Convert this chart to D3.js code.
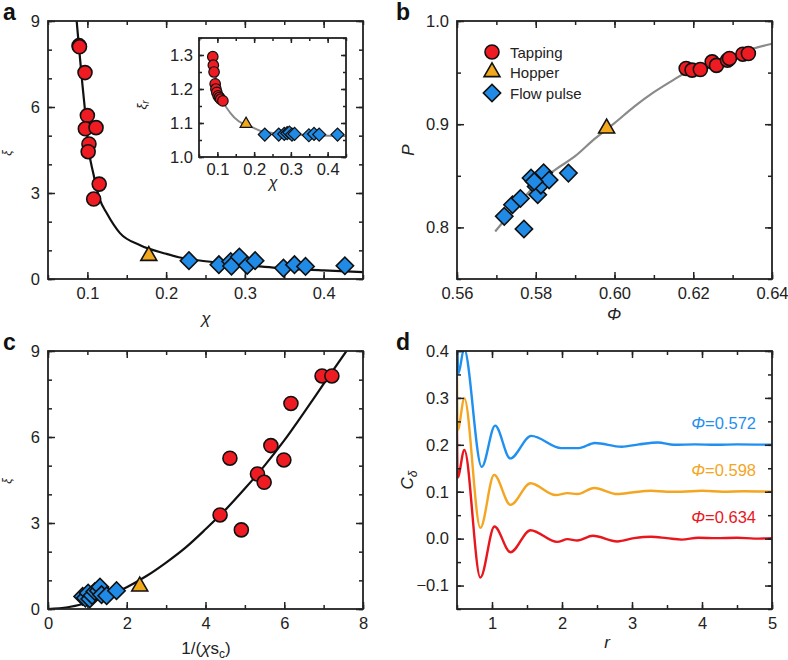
<!DOCTYPE html>
<html lang="en">
<head>
<meta charset="UTF-8">
<title>Packing figure</title>
<script src="https://d3js.org/d3.v7.min.js"></script>
<style>
  body { margin: 0; background: #fff; }
  svg { font-family: "Liberation Sans", Arial, sans-serif; }
  .tick text { font-size: 16.5px; fill: #222; }
  .tick line { stroke: #222; stroke-width: 1.5; }
  .frame { fill: none; stroke: #222; stroke-width: 1.8; }
</style>
</head>
<body>
<div id="chart"></div>
<script>
// ---- panel a : xi vs chi ----
const aTapping = [[0.0894,8.14],[0.090,8.10],[0.097,7.2],[0.100,5.70],[0.0974,5.24],[0.111,5.28],[0.102,4.71],[0.101,4.44],[0.115,3.31],[0.108,2.79]];
const aHopper = [[0.178,0.81]];
const aFlow = [[0.229,0.64],[0.267,0.50],[0.282,0.61],[0.283,0.45],[0.293,0.77],[0.303,0.47],[0.313,0.64],[0.349,0.38],[0.363,0.50],[0.377,0.44],[0.427,0.46]];
const aFit = [[0.0864,9.0],[0.0893,8.1],[0.094,6.7],[0.0978,5.66],[0.1012,4.62],[0.1075,3.69],[0.116,2.76],[0.1245,2.3],[0.1414,1.6],[0.167,1.18],[0.20,0.88],[0.216,0.76],[0.25,0.62],[0.294,0.5],[0.336,0.4],[0.40,0.3],[0.45,0.24]];

// inset: xi_r vs chi
const inTapping = [[0.0875,1.295],[0.089,1.27],[0.091,1.25],[0.094,1.215],[0.096,1.20],[0.0985,1.19],[0.102,1.18],[0.1056,1.175],[0.109,1.17],[0.115,1.165]];
const inHopper = [[0.178,1.097]];
const inFlow = [[0.229,1.066],[0.267,1.066],[0.282,1.068],[0.29,1.07],[0.296,1.072],[0.303,1.066],[0.31,1.068],[0.349,1.064],[0.363,1.068],[0.377,1.066],[0.427,1.066]];
const inFit = [[0.087,1.30],[0.1,1.21],[0.117,1.16],[0.135,1.13],[0.158,1.105],[0.19,1.09],[0.226,1.074],[0.30,1.067],[0.45,1.062]];

// ---- panel b : P vs phi ----
const bTapping = [[0.6182,0.954],[0.6197,0.9524],[0.6218,0.953],[0.6248,0.9604],[0.6259,0.957],[0.6287,0.962],[0.6292,0.9637],[0.6326,0.9678],[0.634,0.9685]];
const bHopper = [[0.598,0.896]];
const bFlow = [[0.572,0.8107],[0.5741,0.822],[0.5761,0.828],[0.577,0.7985],[0.5788,0.8478],[0.5801,0.8396],[0.5805,0.8316],[0.5813,0.841],[0.582,0.853],[0.5834,0.846],[0.5796,0.8445],[0.5883,0.8526]];
const bFit = [[0.5697,0.796],[0.575,0.82],[0.58,0.841],[0.585,0.856],[0.59,0.869],[0.595,0.886],[0.60,0.901],[0.605,0.917],[0.61,0.931],[0.615,0.943],[0.62,0.954],[0.625,0.961],[0.63,0.967],[0.635,0.973],[0.64,0.978]];

// ---- panel c : xi vs 1/(chi s_c) ----
const cTapping = [[6.96,8.13],[7.21,8.13],[6.17,7.17],[5.66,5.70],[4.62,5.26],[5.99,5.20],[5.32,4.71],[5.49,4.42],[4.37,3.28],[4.91,2.76]];
const cHopper = [[2.33,0.79]];
const cFlow = [[0.88,0.44],[0.95,0.38],[1.02,0.56],[1.06,0.35],[1.12,0.47],[1.19,0.61],[1.28,0.64],[1.32,0.77],[1.36,0.5],[1.49,0.46],[1.74,0.64]];
const cFit = [[0,0],[0.5,0.06],[1,0.22],[1.5,0.46],[2,0.76],[2.5,1.15],[3,1.62],[3.5,2.15],[4,2.78],[4.5,3.45],[5,4.2],[5.5,5.0],[6,5.88],[6.5,6.85],[7,7.85],[7.58,9.0]];

// ---- panel d : C_delta vs r ----
const dBlue = [[0.5,0.46],[0.52,0.352],[0.6,0.405],[0.853,0.153],[1.045,0.241],[1.26,0.171],[1.56,0.219],[1.99,0.193],[2.24,0.193],[2.47,0.204],[2.85,0.196],[3.1,0.201],[3.37,0.205],[3.6,0.2],[3.9,0.201],[4.2,0.2],[4.5,0.201],[5.0,0.2]];
const dOrange = [[0.5,0.345],[0.509,0.231],[0.605,0.299],[0.834,0.023],[1.03,0.136],[1.264,0.072],[1.55,0.118],[1.91,0.093],[2.08,0.097],[2.22,0.095],[2.46,0.108],[2.79,0.095],[3.03,0.099],[3.27,0.102],[3.5,0.1],[3.71,0.1],[4.0,0.102],[4.3,0.1],[4.6,0.101],[5.0,0.1]];
const dRed = [[0.5,0.23],[0.509,0.13],[0.605,0.189],[0.834,-0.083],[1.035,0.026],[1.264,-0.029],[1.55,0.018],[1.93,-0.007],[2.08,-0.001],[2.22,-0.004],[2.44,0.006],[2.79,-0.006],[3.03,0.001],[3.27,0.004],[3.5,0.001],[3.71,-0.002],[3.95,0.002],[4.2,0.001],[4.5,0.002],[4.75,0.0],[5.0,0.001]];
const dLabels = ["0.572", "0.598", "0.634"];
const dLabelY = [0.245, 0.145, 0.045];

// tick values
const xiTicks = [0, 3, 6, 9], xiMinor = d3.range(0, 10, 1);
const chiTicks = [0.1, 0.2, 0.3, 0.4], chiMinor = d3.range(0.05, 0.451, 0.05);
const xirTicks = [1.0, 1.1, 1.2, 1.3], xirMinor = d3.range(1.0, 1.351, 0.05);
const phiTicks = [0.56, 0.58, 0.60, 0.62, 0.64], phiMinor = d3.range(0.56, 0.641, 0.01);
const pTicks = [0.8, 0.9, 1.0], pMinor = d3.range(0.75, 1.001, 0.05);
const invTicks = [0, 2, 4, 6, 8], invMinor = d3.range(0, 8.1, 1);
const rTicks = [1, 2, 3, 4, 5], rMinor = d3.range(0.5, 5.01, 0.5);
const cTicks = [-0.1, 0.0, 0.1, 0.2, 0.3, 0.4], cMinor = d3.range(-0.15, 0.401, 0.05);

const RED = "#ee1c22", ORANGE = "#f2a81d", BLUE = "#1f8be6";
const LRED = "#e8161d", LORANGE = "#f4a522", LBLUE = "#1f8ff0";

const svg = d3.select("#chart").append("svg")
    .attr("width", 788).attr("height", 660);

const fmt1 = d => d < 0 ? "\u2212" + Math.abs(d).toFixed(1) : d.toFixed(1);

function box(g, x, y, o) {
    const w = x.range()[1] - x.range()[0];
    const h = y.range()[0] - y.range()[1];
    const big = o.big || 7, small = o.small || 4;
    const add = (axis, tr) => {
        const a = g.append("g").attr("transform", tr).call(axis);
        a.select(".domain").remove();
        return a;
    };
    add(d3.axisBottom(x).tickValues(o.xMinor).tickSize(-small).tickFormat(""), `translate(0,${h})`);
    add(d3.axisTop(x).tickValues(o.xMinor).tickSize(-small).tickFormat(""), "translate(0,0)");
    add(d3.axisLeft(y).tickValues(o.yMinor).tickSize(-small).tickFormat(""), "translate(0,0)");
    add(d3.axisRight(y).tickValues(o.yMinor).tickSize(-small).tickFormat(""), `translate(${w},0)`);
    add(d3.axisBottom(x).tickValues(o.xTicks).tickSize(-big).tickPadding(o.pad || 8).tickFormat(o.fx), `translate(0,${h})`);
    add(d3.axisTop(x).tickValues(o.xTicks).tickSize(-big).tickFormat(""), "translate(0,0)");
    add(d3.axisLeft(y).tickValues(o.yTicks).tickSize(-big).tickPadding(o.pad || 8).tickFormat(o.fy), "translate(0,0)");
    add(d3.axisRight(y).tickValues(o.yTicks).tickSize(-big).tickFormat(""), `translate(${w},0)`);
    g.append("rect").attr("class", "frame").attr("width", w).attr("height", h);
}

function markers(g, x, y, flow, hopper, tapping, s) {
    const k = s || 1;
    g.selectAll(null).data(flow).join("path")
        .attr("d", d3.symbol(d3.symbolSquare, 150 * k * k)())
        .attr("transform", d => `translate(${x(d[0])},${y(d[1])}) rotate(45)`)
        .attr("fill", BLUE).attr("stroke", "#111").attr("stroke-width", 1.6 * k);
    g.selectAll(null).data(hopper).join("path")
        .attr("d", d3.symbol(d3.symbolTriangle, 110 * k * k)())
        .attr("transform", d => `translate(${x(d[0])},${y(d[1])})`)
        .attr("fill", ORANGE).attr("stroke", "#111").attr("stroke-width", 1.6 * k);
    g.selectAll(null).data(tapping).join("circle")
        .attr("cx", d => x(d[0])).attr("cy", d => y(d[1])).attr("r", 7 * k)
        .attr("fill", RED).attr("stroke", "#111").attr("stroke-width", 1.6 * k);
}

function panelLetter(t, px, py) {
    svg.append("text").attr("x", px).attr("y", py).text(t)
        .attr("font-size", 23).attr("font-weight", "bold").attr("fill", "#111");
}

// ---------- panel a ----------
{
    const x = d3.scaleLinear().domain([0.05, 0.45]).range([48, 363]);
    const y = d3.scaleLinear().domain([0, 9]).range([279, 21]);
    const g = svg.append("g");
    const line = d3.line().x(d => x(d[0])).y(d => y(d[1])).curve(d3.curveMonotoneX);
    g.append("path").datum(aFit).attr("d", line).attr("fill", "none").attr("stroke", "#111").attr("stroke-width", 2.2);
    const gx = g.append("g").attr("transform", "translate(48,21)");
    box(gx, d3.scaleLinear().domain(x.domain()).range([0, 315]), d3.scaleLinear().domain(y.domain()).range([258, 0]),
        { xTicks: chiTicks, xMinor: chiMinor, yTicks: xiTicks, yMinor: xiMinor, fx: d3.format(".1f"), fy: d3.format("d") });
    markers(g, x, y, aFlow, aHopper, aTapping);

    // inset
    const ix = d3.scaleLinear().domain([0.05, 0.45]).range([199, 346]);
    const iy = d3.scaleLinear().domain([1.0, 1.35]).range([157, 38]);
    g.append("rect").attr("x", 199).attr("y", 38).attr("width", 147).attr("height", 119).attr("fill", "#fff");
    g.append("path").datum(inFit).attr("d", d3.line().x(d => ix(d[0])).y(d => iy(d[1])).curve(d3.curveMonotoneX))
        .attr("fill", "none").attr("stroke", "#8a8a8a").attr("stroke-width", 2);
    const gi = g.append("g").attr("transform", "translate(199,38)");
    box(gi, d3.scaleLinear().domain(ix.domain()).range([0, 147]), d3.scaleLinear().domain(iy.domain()).range([119, 0]),
        { xTicks: chiTicks, xMinor: chiMinor, yTicks: xirTicks, yMinor: xirMinor, fx: d3.format(".1f"), fy: d3.format(".1f"), big: 5, small: 3, pad: 6 });
    markers(g, ix, iy, inFlow, inHopper, inTapping, 0.75);
    g.append("text").attr("transform", "translate(146,105) rotate(-90)").attr("text-anchor", "middle")
        .attr("font-size", 13).attr("font-style", "italic").attr("fill", "#222")
        .text("\u03be").append("tspan").attr("font-size", 10).attr("dy", 3).text("r");
    g.append("text").attr("x", 273).attr("y", 188).attr("text-anchor", "middle")
        .attr("font-size", 16).attr("font-style", "italic").attr("fill", "#222").text("\u03c7");

    svg.append("text").attr("transform", "translate(11,153) rotate(-90)").attr("text-anchor", "middle")
        .attr("font-size", 12).attr("font-style", "italic").attr("fill", "#222").text("\u03be");
    svg.append("text").attr("x", 206).attr("y", 324).attr("text-anchor", "middle")
        .attr("font-size", 17).attr("font-style", "italic").attr("fill", "#222").text("\u03c7");
    panelLetter("a", 3, 20);
}

// ---------- panel b ----------
{
    const x = d3.scaleLinear().domain([0.56, 0.64]).range([457, 772]);
    const y = d3.scaleLinear().domain([0.75, 1.0]).range([279, 21]);
    const g = svg.append("g");
    g.append("path").datum(bFit).attr("d", d3.line().x(d => x(d[0])).y(d => y(d[1])).curve(d3.curveMonotoneX))
        .attr("fill", "none").attr("stroke", "#8a8a8a").attr("stroke-width", 2.2);
    const gb = g.append("g").attr("transform", "translate(457,21)");
    box(gb, d3.scaleLinear().domain(x.domain()).range([0, 315]), d3.scaleLinear().domain(y.domain()).range([258, 0]),
        { xTicks: phiTicks, xMinor: phiMinor, yTicks: pTicks, yMinor: pMinor, fx: d3.format(".2f"), fy: d3.format(".1f") });
    markers(g, x, y, bFlow, bHopper, bTapping);

    // legend
    const names = ["Tapping", "Hopper", "Flow pulse"];
    const ly = [52, 72, 93];
    markers(g, () => 492, v => v, [ly[2]].map(v => [0, v]), [ly[1]].map(v => [0, v]), [ly[0]].map(v => [0, v]));
    g.selectAll(null).data(names).join("text")
        .attr("x", 510).attr("y", (d, i) => ly[i] + 5.5)
        .attr("font-size", 15).attr("fill", "#222").text(d => d);

    svg.append("text").attr("transform", "translate(414,150) rotate(-90)").attr("text-anchor", "middle")
        .attr("font-size", 17).attr("font-style", "italic").attr("fill", "#222").text("P");
    svg.append("text").attr("x", 614).attr("y", 320).attr("text-anchor", "middle")
        .attr("font-size", 17).attr("font-style", "italic").attr("fill", "#222").text("\u03a6");
    panelLetter("b", 396, 20);
}

// ---------- panel c ----------
{
    const x = d3.scaleLinear().domain([0, 8]).range([48, 363]);
    const y = d3.scaleLinear().domain([0, 9]).range([609, 351]);
    const g = svg.append("g");
    g.append("clipPath").attr("id", "clipc").append("rect")
        .attr("x", 48).attr("y", 351).attr("width", 315).attr("height", 258);
    g.append("path").datum(cFit).attr("clip-path", "url(#clipc)")
        .attr("d", d3.line().x(d => x(d[0])).y(d => y(d[1])).curve(d3.curveMonotoneX))
        .attr("fill", "none").attr("stroke", "#111").attr("stroke-width", 2.2);
    const gc = g.append("g").attr("transform", "translate(48,351)");
    box(gc, d3.scaleLinear().domain(x.domain()).range([0, 315]), d3.scaleLinear().domain(y.domain()).range([258, 0]),
        { xTicks: invTicks, xMinor: invMinor, yTicks: xiTicks, yMinor: xiMinor, fx: d3.format("d"), fy: d3.format("d") });
    markers(g, x, y, cFlow, cHopper, cTapping);

    svg.append("text").attr("transform", "translate(11,481) rotate(-90)").attr("text-anchor", "middle")
        .attr("font-size", 12).attr("font-style", "italic").attr("fill", "#222").text("\u03be");
    const t = svg.append("text").attr("x", 206).attr("y", 654).attr("text-anchor", "middle")
        .attr("font-size", 17).attr("fill", "#222");
    t.append("tspan").text("1/(");
    t.append("tspan").attr("font-style", "italic").text("\u03c7");
    t.append("tspan").text("s");
    t.append("tspan").attr("font-size", 12).attr("dy", 4).text("c");
    t.append("tspan").attr("dy", -4).text(")");
    panelLetter("c", 3, 350);
}

// ---------- panel d ----------
{
    const x = d3.scaleLinear().domain([0.5, 5]).range([457, 772]);
    const y = d3.scaleLinear().domain([-0.15, 0.4]).range([609, 351]);
    const g = svg.append("g");
    g.append("clipPath").attr("id", "clipd").append("rect")
        .attr("x", 457).attr("y", 351).attr("width", 315).attr("height", 258);
    const line = d3.line().x(d => x(d[0])).y(d => y(d[1])).curve(d3.curveMonotoneX);
    const series = [dBlue, dOrange, dRed];
    const cols = [LBLUE, LORANGE, LRED];
    g.selectAll(null).data(series).join("path")
        .attr("clip-path", "url(#clipd)")
        .attr("d", line).attr("fill", "none")
        .attr("stroke", (d, i) => cols[i]).attr("stroke-width", 2.4);
    const gd = g.append("g").attr("transform", "translate(457,351)");
    box(gd, d3.scaleLinear().domain(x.domain()).range([0, 315]), d3.scaleLinear().domain(y.domain()).range([258, 0]),
        { xTicks: rTicks, xMinor: rMinor, yTicks: cTicks, yMinor: cMinor, fx: d3.format("d"), fy: fmt1 });

    dLabels.forEach((lab, i) => {
        const t = g.append("text").attr("x", 756).attr("y", y(dLabelY[i]) + 5).attr("text-anchor", "end")
            .attr("font-size", 16.5).attr("fill", cols[i]);
        t.append("tspan").attr("font-style", "italic").text("\u03a6");
        t.append("tspan").text("=" + lab);
    });

    const yl = svg.append("text").attr("transform", "translate(413,480) rotate(-90)").attr("text-anchor", "middle")
        .attr("font-size", 17).attr("font-style", "italic").attr("fill", "#222");
    yl.append("tspan").text("C");
    yl.append("tspan").attr("font-size", 12).attr("dy", 4).text("\u03b4");
    svg.append("text").attr("x", 607).attr("y", 648).attr("text-anchor", "middle")
        .attr("font-size", 17).attr("font-style", "italic").attr("fill", "#222").text("r");
    panelLetter("d", 396, 350);
}
</script>
</body>
</html>
